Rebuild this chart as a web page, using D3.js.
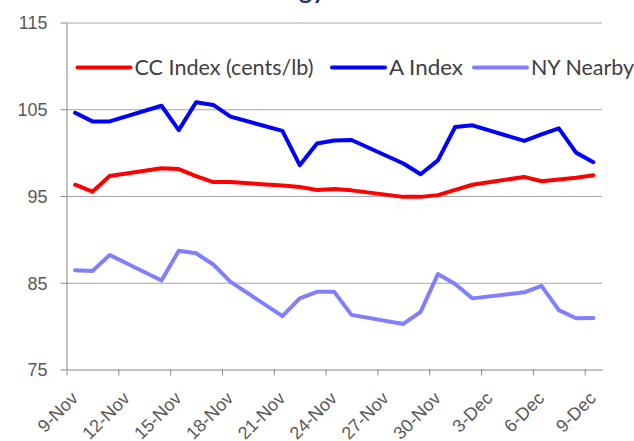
<!DOCTYPE html>
<html>
<head>
<meta charset="utf-8">
<script src="https://cdn.jsdelivr.net/npm/d3@7/dist/d3.min.js"></script>
<style>
  html, body { margin: 0; padding: 0; background: #ffffff; }
  svg { display: block; }
  .grid line { stroke: #a6a6a6; stroke-width: 1; }
  .grid path { display: none; }
  .axis path, .axis line { stroke: #868686; stroke-width: 1; }
  .series { fill: none; stroke-width: 4; stroke-linejoin: round; stroke-linecap: round; }
</style>
</head>
<body>
<svg id="chart" width="634" height="441"></svg>
<script>
// trading days, Nov-Dec 2011
const dates = [
  "2011-11-09", "2011-11-10", "2011-11-11", "2011-11-14", "2011-11-15",
  "2011-11-16", "2011-11-17", "2011-11-18", "2011-11-21", "2011-11-22",
  "2011-11-23", "2011-11-24", "2011-11-25", "2011-11-28", "2011-11-29",
  "2011-11-30", "2011-12-01", "2011-12-02", "2011-12-05", "2011-12-06",
  "2011-12-07", "2011-12-08", "2011-12-09",
];

const ccIndex = [
  96.3, 95.5, 97.3, 98.2, 98.1, 97.3, 96.6, 96.6, 96.2, 96.05,
  95.7, 95.8, 95.65, 94.9, 94.9, 95.1, 95.7, 96.3, 97.2, 96.7,
  96.9, 97.1, 97.4,
];

const aIndex = [
  104.6, 103.6, 103.6, 105.4, 102.6, 105.8, 105.5, 104.15, 102.5, 98.55,
  101.05, 101.4, 101.45, 98.75, 97.5, 99.1, 102.95, 103.15, 101.35, 102.1,
  102.8, 100.0, 98.9,
];

const nyNearby = [
  86.45, 86.35, 88.2, 85.25, 88.7, 88.4, 87.1, 85.1, 81.15, 83.2,
  83.95, 83.95, 81.3, 80.25, 81.65, 86.0, 84.85, 83.2, 83.9, 84.65,
  81.85, 80.9, 80.95,
];

const seriesNames = ["CC Index (cents/lb)", "A Index", "NY Nearby"];
const seriesColors = ["#ff0000", "#0000ff", "#8080ff"];

const tickDates = [
  "2011-11-09", "2011-11-12", "2011-11-15", "2011-11-18", "2011-11-21",
  "2011-11-24", "2011-11-27", "2011-11-30", "2011-12-03", "2011-12-06",
  "2011-12-09",
];
const yTicks = [75, 85, 95, 105, 115];

(function drawChart() {
  const svg = d3.select("#chart");
  const width = 634;
  const height = 441;
  const plot = { left: 66.5, right: 602, top: 22.5, bottom: 369.5 };
  const axisFont = "'Liberation Sans', Arial, sans-serif";

  const parse = d3.timeParse("%Y-%m-%d");
  const fmt = d3.timeFormat("%-d-%b");
  const dayList = dates.map(parse);

  svg.append("rect").attr("width", width).attr("height", height).attr("fill", "#ffffff");

  // date axis: each day is a slot, points sit in the middle of the slot
  const x = d3
    .scaleTime()
    .domain([parse("2011-11-09"), parse("2011-12-10")])
    .range([plot.left, plot.right]);

  const y = d3.scaleLinear().domain([75, 115]).range([plot.bottom, plot.top]);

  const mid = (d) => x(d3.timeHour.offset(d, 12));

  // title (only the bottom of it is inside the picture)
  svg
    .append("text")
    .attr("x", 299)
    .attr("y", -1)
    .attr("fill", "#1f3864")
    .style("font-family", "Lato, 'Open Sans', sans-serif")
    .style("font-weight", "bold")
    .style("font-size", "25px")
    .text("gy");

  svg
    .append("g")
    .attr("class", "grid")
    .attr("transform", `translate(${plot.left},0)`)
    .call(
      d3
        .axisLeft(y)
        .tickValues(yTicks.filter((t) => t > 75))
        .tickSize(-(plot.right - plot.left))
        .tickFormat(""),
    );

  const yAxisG = svg
    .append("g")
    .attr("class", "axis")
    .attr("transform", `translate(${plot.left},0)`)
    .call(d3.axisLeft(y).tickValues(yTicks).tickSize(6).tickSizeOuter(0).tickPadding(13));
  yAxisG.attr("font-family", axisFont).attr("font-size", 18);
  yAxisG.selectAll("text").attr("fill", "#595959").attr("dy", "0.36em");

  const xAxisG = svg
    .append("g")
    .attr("class", "axis")
    .attr("transform", `translate(0,${plot.bottom})`)
    .call(
      d3
        .axisBottom(x)
        .tickValues(tickDates.map(parse))
        .tickSize(6)
        .tickSizeOuter(0)
        .tickFormat(fmt),
    );
  xAxisG.attr("font-family", axisFont).attr("font-size", 18);
  xAxisG
    .selectAll("text")
    .attr("fill", "#595959")
    .attr("x", 0)
    .attr("y", 0)
    .attr("dy", 0)
    .attr("transform", "translate(12,30) rotate(-45)")
    .style("text-anchor", "end");

  const line = d3
    .line()
    .x((d) => mid(d.date))
    .y((d) => y(d.value));

  [ccIndex, aIndex, nyNearby].forEach((values, i) => {
    const pts = values.map((v, k) => ({ date: dayList[k], value: v }));
    svg
      .append("path")
      .datum(pts)
      .attr("class", "series")
      .attr("stroke", seriesColors[i])
      .attr("d", line);
  });

  // legend
  const legendY = 67.5;
  const legendStarts = [77.5, 332, 474];
  const legendTextWidths = [179, 74, 103];
  const legend = svg.append("g");
  seriesNames.forEach((name, i) => {
    const x0 = legendStarts[i];
    legend
      .append("line")
      .attr("x1", x0)
      .attr("x2", x0 + 53)
      .attr("y1", legendY)
      .attr("y2", legendY)
      .attr("stroke", seriesColors[i])
      .attr("stroke-width", 4)
      .attr("stroke-linecap", "round");
    legend
      .append("text")
      .attr("x", x0 + 57)
      .attr("y", legendY)
      .attr("dy", "0.36em")
      .attr("fill", "#404040")
      .attr("textLength", legendTextWidths[i])
      .attr("lengthAdjust", "spacingAndGlyphs")
      .style("font-family", "Lato, 'Open Sans', sans-serif")
      .style("font-size", "21px")
      .text(name);
  });
})();
</script>
</body>
</html>
